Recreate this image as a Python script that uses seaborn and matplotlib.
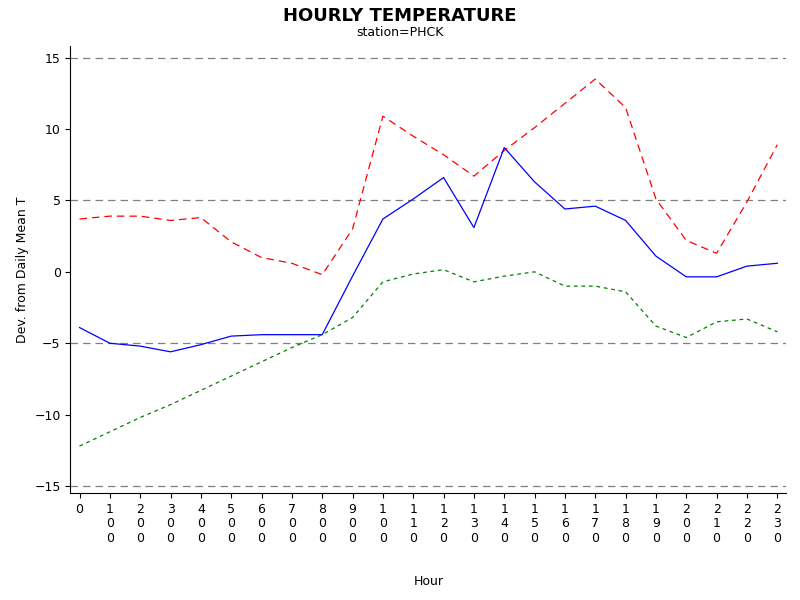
import matplotlib
matplotlib.use("Agg")
import matplotlib.pyplot as plt
import seaborn as sns
import pandas as pd

hours = list(range(24))
# reference tick labels show only three stacked characters
hour_labels = ["0"] + ["\n".join(str(h * 100)[:3]) for h in range(1, 24)]
mean_dev = [-3.9, -5.0, -5.2, -5.6, -5.1, -4.5, -4.4, -4.4, -4.4, -0.3, 3.7, 5.1,
            6.6, 3.1, 8.7, 6.3, 4.4, 4.6, 3.6, 1.1, -0.35, -0.35, 0.4, 0.6]
max_dev = [3.7, 3.9, 3.9, 3.6, 3.8, 2.1, 1.0, 0.6, -0.2, 3.0, 10.9, 9.5,
           8.2, 6.7, 8.5, 10.1, 11.8, 13.5, 11.5, 5.1, 2.2, 1.3, 4.9, 8.9]
min_dev = [-12.2, -11.2, -10.2, -9.3, -8.3, -7.3, -6.3, -5.3, -4.4, -3.2, -0.7, -0.15,
           0.15, -0.7, -0.3, 0.0, -1.0, -1.0, -1.4, -3.8, -4.6, -3.5, -3.3, -4.2]
yticks = [-15, -10, -5, 0, 5, 10, 15]

df = pd.DataFrame({"hour": hours, "mean": mean_dev, "max": max_dev, "min": min_dev})

fig = plt.figure(figsize=(8, 6), dpi=100)
ax = fig.add_axes([0.088, 0.178, 0.895, 0.745])
sns.lineplot(data=df, x="hour", y="max", ax=ax, color="red", lw=0.9)
ax.lines[-1].set_linestyle((0, (6, 4)))
sns.lineplot(data=df, x="hour", y="mean", ax=ax, color="blue", lw=0.9)
sns.lineplot(data=df, x="hour", y="min", ax=ax, color="green", lw=0.9)
ax.lines[-1].set_linestyle((0, (3, 3)))
for y in [-15, -5, 5, 15]:
    ax.axhline(y, color="gray", lw=0.9, ls=(0, (6, 4)), zorder=0)

ax.set_xlim(-0.3, 23.3)
ax.set_ylim(-15.5, 15.8)
ax.set_xticks(hours)
ax.set_xticklabels(hour_labels, fontsize=9, linespacing=1.15, va="top")
ax.set_yticks(yticks)
ax.tick_params(labelsize=9)
ax.spines["top"].set_visible(False)
ax.spines["right"].set_visible(False)
ax.set_xlabel("Hour", fontsize=9, labelpad=22)
ax.set_ylabel("Dev. from Daily Mean T", fontsize=9)
fig.text(0.5, 0.965, "HOURLY TEMPERATURE", ha="center", fontsize=13, fontweight="bold")
fig.text(0.5, 0.94, "station=PHCK", ha="center", fontsize=9)
fig.savefig("out.png", dpi=100)
